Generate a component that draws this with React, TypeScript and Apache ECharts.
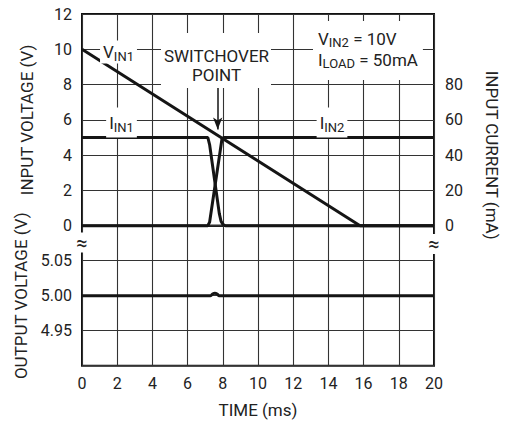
import React, { useEffect, useRef } from "react";
import * as echarts from "echarts";

// ---- data ----
const timeTicks = [0, 2, 4, 6, 8, 10, 12, 14, 16, 18, 20];
const inputVoltageTicks = [0, 2, 4, 6, 8, 10, 12];
const outputVoltageTicks = ["4.95", "5.00", "5.05"];
const inputCurrentTicks = [0, 20, 40, 60, 80];

const vin1Time = [0, 15.8, 20];
const vin1Volt = [10, 0, 0];

const iin1Time = [0, 7.15, 7.25, 7.8, 7.9, 8.0, 8.15, 20];
const iin1mA = [50, 50, 46, 7, 2.5, 0.8, 0, 0];

const iin2Time = [0, 7.15, 7.25, 7.95, 8.05, 20];
const iin2mA = [0, 0, 2, 49, 50, 50];

const voutTime = [0, 7.3, 7.42, 7.55, 7.68, 7.8, 20];
const voutVolt = [5.0, 5.0, 5.0025, 5.0035, 5.0025, 5.0, 5.0];

const FONT = 'Roboto, "Liberation Sans", sans-serif';
const TXT = "#222";
const LINE = "#151515";
const GRIDC = "#333";

const zip = (xs: number[], ys: number[]) => xs.map((x, i) => [x, ys[i]]);

export default function App() {
  const ref = useRef<HTMLDivElement>(null);
  useEffect(() => {
    const chart = echarts.init(ref.current!, null, { renderer: "svg" });
    const L = 82, R = 76, W = 352;
    const top0 = 14, zeroY = 225.7, bottomY = 365.7;
    const row = (zeroY - top0) / 12; // px per volt
    const labelStyle = { fontFamily: FONT, fontSize: 16, color: TXT };
    const xCommon = {
      type: "value" as const,
      min: timeTicks[0],
      max: timeTicks[timeTicks.length - 1],
      interval: 2,
      axisTick: { show: false },
      axisLine: { show: false },
      splitLine: { show: true, lineStyle: { color: GRIDC, width: 1.1 } },
    };
    const rich = {
      m: { fontFamily: FONT, fontSize: 17, fill: TXT, lineHeight: 20 },
      s: { fontFamily: FONT, fontSize: 13, fill: TXT, padding: [8, 0, 0, 0] },
    };
    const box = (x: number, y: number, text: string, padding: number[], align = "center", vAlign = "middle", bg = "#fff") => ({
      type: "text",
      x,
      y,
      z: 100,
      style: {
        text,
        rich,
        fontFamily: FONT,
        fontSize: 17,
        fill: TXT,
        align,
        verticalAlign: vAlign,
        backgroundColor: bg,
        padding,
      },
    });
    const option: any = {
      animation: false,
      backgroundColor: "#fff",
      grid: [
        { left: L, top: top0, width: W, height: zeroY - top0, show: true, borderColor: "#111", borderWidth: 2 },
        { left: L, top: zeroY, width: W, height: bottomY - zeroY, show: true, borderColor: "#111", borderWidth: 2 },
        { left: L, top: zeroY - 8 * row, width: W, height: 8 * row, show: false },
      ],
      xAxis: [
        { ...xCommon, gridIndex: 0, axisLabel: { show: false } },
        {
          ...xCommon,
          gridIndex: 1,
          axisLabel: { ...labelStyle, margin: 10 },
          name: "TIME (ms)",
          nameLocation: "middle",
          nameGap: 36,
          nameTextStyle: { fontFamily: FONT, fontSize: 17, color: TXT },
        },
        { type: "value", gridIndex: 2, min: 0, max: 20, show: false },
      ],
      yAxis: [
        {
          type: "value",
          gridIndex: 0,
          min: inputVoltageTicks[0],
          max: inputVoltageTicks[inputVoltageTicks.length - 1],
          interval: 2,
          axisTick: { show: false },
          axisLine: { show: false },
          splitLine: { show: true, lineStyle: { color: GRIDC, width: 1.1 } },
          axisLabel: { ...labelStyle, margin: 10 },
          name: "INPUT VOLTAGE (V)",
          nameLocation: "middle",
          nameGap: 47,
          nameTextStyle: { fontFamily: FONT, fontSize: 17, color: TXT },
        },
        {
          type: "value",
          gridIndex: 1,
          min: 4.9,
          max: 5.1,
          interval: 0.05,
          axisTick: { show: false },
          axisLine: { show: false },
          splitLine: { show: true, lineStyle: { color: GRIDC, width: 1.1 } },
          axisLabel: {
            ...labelStyle,
            margin: 10,
            formatter: (v: number) => {
              const s = v.toFixed(2);
              return outputVoltageTicks.includes(s) ? s : "";
            },
          },
          name: "OUTPUT VOLTAGE (V)",
          nameLocation: "middle",
          nameGap: 47,
          nameTextStyle: { fontFamily: FONT, fontSize: 17, color: TXT },
        },
        {
          type: "value",
          gridIndex: 2,
          position: "right",
          min: inputCurrentTicks[0],
          max: inputCurrentTicks[inputCurrentTicks.length - 1],
          interval: 20,
          axisTick: { show: false },
          axisLine: { show: false },
          splitLine: { show: false },
          axisLabel: { ...labelStyle, margin: 11 },
          name: "INPUT CURRENT (mA)",
          nameLocation: "middle",
          nameRotate: -90,
          nameGap: 49,
          nameTextStyle: { fontFamily: FONT, fontSize: 17, color: TXT },
        },
      ],
      series: [
        {
          name: "VIN1",
          type: "line",
          xAxisIndex: 0,
          yAxisIndex: 0,
          data: zip(vin1Time, vin1Volt),
          showSymbol: false,
          clip: false,
          lineStyle: { color: LINE, width: 3 },
          markLine: {
            silent: true,
            symbol: ["none", "arrow"],
            symbolSize: [7, 12],
            label: { show: false },
            lineStyle: { color: LINE, width: 1.5, type: "solid" },
            data: [[{ coord: [7.71, 7.8] }, { coord: [7.71, 5.45] }]],
          },
        },
        {
          name: "IIN1",
          type: "line",
          xAxisIndex: 2,
          yAxisIndex: 2,
          data: zip(iin1Time, iin1mA),
          showSymbol: false,
          clip: false,
          lineStyle: { color: LINE, width: 3 },
        },
        {
          name: "IIN2",
          type: "line",
          xAxisIndex: 2,
          yAxisIndex: 2,
          data: zip(iin2Time, iin2mA),
          showSymbol: false,
          clip: false,
          lineStyle: { color: LINE, width: 3 },
        },
        {
          name: "VOUT",
          type: "line",
          xAxisIndex: 1,
          yAxisIndex: 1,
          data: zip(voutTime, voutVolt),
          showSymbol: false,
          clip: false,
          smooth: 0.4,
          lineStyle: { color: LINE, width: 3 },
        },
      ],
      graphic: [
        box(118.5, 52, "{m|V}{s|IN1}", [1, 3, 1, 3]),
        { type: "rect", z: 99, shape: { x: 161, y: 33, width: 110, height: 55 }, style: { fill: "#fff" } },
        {
          type: "text", x: 216.5, y: 55.5, z: 100,
          style: { text: "SWITCHOVER", fontFamily: FONT, fontSize: 17, fill: TXT, align: "center", verticalAlign: "middle" },
        },
        {
          type: "text", x: 216.5, y: 74.5, z: 100,
          style: { text: "POINT", fontFamily: FONT, fontSize: 17, fill: TXT, align: "center", verticalAlign: "middle" },
        },
        box(313, 21, "{m|V}{s|IN2}{m| = 10V}\n{m|I}{s|LOAD}{m| = 50mA}", [7, 5, 10, 5], "left", "top"),
        box(121.5, 122.5, "{m|I}{s|IN1}", [5, 3, 4, 3]),
        box(332, 122.5, "{m|I}{s|IN2}", [5, 3, 4, 3]),
        {
          type: "text",
          x: 82,
          y: 242.5,
          z: 100,
          style: { text: "≈", fontFamily: FONT, fontSize: 20, fill: TXT, align: "center", verticalAlign: "middle", backgroundColor: "#fff", padding: [0, 0, 0, 0] },
        },
        {
          type: "text",
          x: 434,
          y: 244,
          z: 100,
          style: { text: "≈", fontFamily: FONT, fontSize: 20, fill: TXT, align: "center", verticalAlign: "middle", backgroundColor: "#fff", padding: [0, 0, 0, 0] },
        },
      ],
    };
    chart.setOption(option);
    return () => chart.dispose();
  }, []);
  return <div ref={ref} style={{ position: "fixed", left: 0, top: 0, width: 510, height: 421 }} />;
}
